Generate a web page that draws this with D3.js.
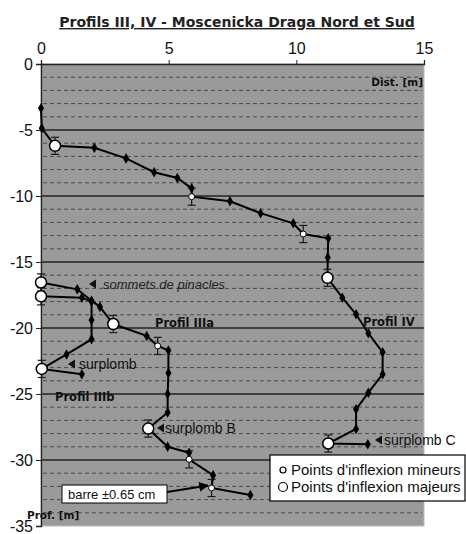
<!DOCTYPE html>
<html>
<head>
<meta charset="utf-8">
<script src="https://cdn.jsdelivr.net/npm/d3@7"></script>
<style>
  body { margin: 0; background: #fff; }
  svg text { font-family: "Liberation Sans", Arial, sans-serif; }
  .bold { font-family: "DejaVu Sans", Verdana, sans-serif !important; font-weight: bold; }
</style>
</head>
<body>
<script>
// window size
var width = 466,
	height = 534;

// x = distance [m], y = depth [m], t = point type (n normal, m minor, M major)
var profilIV = [
	[0, -3.36, "n"], [0.03, -4.87, "n"], [0.55, -6.2, "M"], [2.09, -6.34, "n"],
	[3.33, -7.15, "n"], [4.43, -8.2, "n"], [5.34, -8.64, "n"], [5.9, -9.42, "n"],
	[5.9, -10.05, "m"], [7.4, -10.4, "n"], [8.6, -11.3, "n"], [9.88, -12.07, "n"],
	[10.27, -12.88, "m"], [11.25, -13.2, "n"], [11.23, -14.65, "n"], [11.22, -16.2, "M"],
	[11.8, -17.7, "n"], [12.34, -18.96, "n"], [12.82, -20.4, "n"], [13.38, -21.84, "n"],
	[13.38, -23.5, "n"], [12.82, -24.9, "n"], [12.34, -26.16, "n"], [12.34, -27.65, "n"],
	[11.25, -28.75, "M"], [12.8, -28.8, "n"]
];

var profilIIIa = [
	[0, -16.55, "M"], [1.42, -17.07, "n"], [1.98, -17.93, "n"], [2.31, -18.4, "n"],
	[2.83, -19.7, "M"], [4.14, -20.6, "n"], [4.57, -21.36, "m"], [4.99, -21.7, "n"],
	[4.99, -23.4, "n"], [4.96, -25.0, "n"], [4.96, -26.4, "n"], [4.2, -27.62, "M"],
	[4.96, -29.0, "n"], [5.8, -29.45, "n"], [5.8, -29.95, "m"], [6.74, -31.15, "n"],
	[6.68, -32.12, "m"], [8.2, -32.65, "n"]
];

var profilIIIb = [
	[0, -17.6, "M"], [1.6, -17.7, "n"], [1.98, -18.0, "n"], [1.98, -19.4, "n"],
	[1.98, -20.86, "n"], [1.0, -22.0, "n"], [0.03, -23.1, "M"], [1.6, -23.5, "n"]
];

var xTicks = [0, 5, 10, 15];
var yTicks = [0, -5, -10, -15, -20, -25, -30, -35];
var errorBar = 0.65;

var titleText = "Profils III, IV - Moscenicka Draga Nord et Sud";
var legendLabels = ["Points d'inflexion mineurs", "Points d'inflexion majeurs"];

var svg = d3.select("body").append("svg")
	.attr("width", width)
	.attr("height", height);

var x = d3.scaleLinear().domain([0, 15]).range([41, 424]);
var y = d3.scaleLinear().domain([0, -35]).range([64, 526]);

// plot area
svg.append("rect")
	.attr("x", x(0)).attr("y", y(0))
	.attr("width", x(15) - x(0)).attr("height", y(-35) - y(0))
	.attr("fill", "#9a9a9a")
	.attr("stroke", "#bdbdbd");

// minor dashed gridlines
var minor = d3.range(-1, -35, -1).filter(function(d) { return d % 5 !== 0; });
svg.selectAll(".minor").data(minor).enter().append("line")
	.attr("x1", x(0) + 2).attr("x2", x(15) - 2)
	.attr("y1", function(d) { return y(d); })
	.attr("y2", function(d) { return y(d); })
	.attr("stroke", "#4a4a4a")
	.attr("stroke-width", 1)
	.attr("stroke-dasharray", "4,3");

svg.selectAll(".major").data(yTicks.filter(function(d) { return d < 0 && d > -35; }))
	.enter().append("line")
	.attr("x1", x(0)).attr("x2", x(15))
	.attr("y1", function(d) { return y(d); })
	.attr("y2", function(d) { return y(d); })
	.attr("stroke", "#222")
	.attr("stroke-width", 1.3);

// axes
var xAxis = d3.axisTop(x).tickValues(xTicks).tickSize(4).tickPadding(6);
var yAxis = d3.axisLeft(y).tickValues(yTicks).tickSize(5).tickPadding(3);

var gx = svg.append("g").attr("transform", "translate(0," + y(0) + ")").call(xAxis);
var gy = svg.append("g").attr("transform", "translate(" + x(0) + ",0)").call(yAxis);
[gx, gy].forEach(function(g) {
	g.select(".domain").attr("stroke", "#222").attr("stroke-width", 1.3);
	g.selectAll(".tick line").attr("stroke", "#222");
	g.selectAll(".tick text")
		.attr("fill", "#111")
		.style("font-size", "16px")
		.style("font-family", "Liberation Sans, Arial, sans-serif")
		.text(function(d) { return d; });
});

// title
svg.append("text")
	.attr("class", "bold")
	.attr("x", 237).attr("y", 27)
	.attr("text-anchor", "middle")
	.style("font-size", "14px")
	.style("text-decoration", "underline")
	.attr("fill", "#222")
	.text(titleText);

// lines
var line = d3.line()
	.x(function(d) { return x(d[0]); })
	.y(function(d) { return y(d[1]); });

[profilIV, profilIIIa, profilIIIb].forEach(function(series) {
	svg.append("path")
		.datum(series)
		.attr("d", line)
		.attr("fill", "none")
		.attr("stroke", "#000")
		.attr("stroke-width", 2);
});

var allPoints = profilIV.concat(profilIIIa, profilIIIb);

// error bars on inflexion points
var inflex = allPoints.filter(function(d) { return d[2] !== "n"; });
var eb = svg.selectAll(".eb").data(inflex).enter().append("g")
	.attr("stroke", "#1a1a1a").attr("stroke-width", 1.2);
eb.append("line")
	.attr("x1", function(d) { return x(d[0]); })
	.attr("x2", function(d) { return x(d[0]); })
	.attr("y1", function(d) { return y(d[1] + errorBar); })
	.attr("y2", function(d) { return y(d[1] - errorBar); });
[errorBar, -errorBar].forEach(function(e) {
	eb.append("line")
		.attr("x1", function(d) { return x(d[0]) - 4; })
		.attr("x2", function(d) { return x(d[0]) + 4; })
		.attr("y1", function(d) { return y(d[1] + e); })
		.attr("y2", function(d) { return y(d[1] + e); });
});

// regular points
svg.selectAll(".pt").data(allPoints.filter(function(d) { return d[2] === "n"; }))
	.enter().append("path")
	.attr("d", d3.symbol().type(d3.symbolDiamond).size(32))
	.attr("transform", function(d) { return "translate(" + x(d[0]) + "," + y(d[1]) + ")"; })
	.attr("fill", "#000");

// inflexion points
svg.selectAll(".inf").data(inflex).enter().append("circle")
	.attr("cx", function(d) { return x(d[0]); })
	.attr("cy", function(d) { return y(d[1]); })
	.attr("r", function(d) { return d[2] === "M" ? 5.5 : 3; })
	.attr("fill", "#fff")
	.attr("stroke", "#000")
	.attr("stroke-width", function(d) { return d[2] === "M" ? 1.5 : 1; });

// annotations
function tri(px, py) {
	svg.append("path")
		.attr("d", "M" + px + "," + py + "l7,-4.5v9z")
		.attr("fill", "#111");
}

svg.append("text").attr("class", "bold").attr("x", 423).attr("y", 86)
	.attr("text-anchor", "end").style("font-size", "10.5px").attr("fill", "#111").text("Dist. [m]");
svg.append("text").attr("class", "bold").attr("x", 27).attr("y", 519)
	.style("font-size", "10.5px").attr("fill", "#111").text("Prof. [m]");

tri(89, 284);
svg.append("text").attr("x", 103).attr("y", 288.5)
	.style("font-size", "13px").style("font-style", "italic").attr("fill", "#222").text("sommets de pinacles");

svg.append("text").attr("class", "bold").attr("x", 155).attr("y", 326.5)
	.style("font-size", "11.5px").attr("fill", "#111").text("Profil IIIa");
svg.append("text").attr("class", "bold").attr("x", 363).attr("y", 325.5)
	.style("font-size", "11.5px").attr("fill", "#111").text("Profil IV");
svg.append("text").attr("class", "bold").attr("x", 55).attr("y", 401)
	.style("font-size", "11.5px").attr("fill", "#111").text("Profil IIIb");

tri(68, 364);
svg.append("text").attr("x", 79).attr("y", 369)
	.style("font-size", "14px").attr("fill", "#111").text("surplomb");
tri(157, 428);
svg.append("text").attr("x", 165).attr("y", 433)
	.style("font-size", "14px").attr("fill", "#111").text("surplomb B");
tri(375, 440);
svg.append("text").attr("x", 384).attr("y", 445)
	.style("font-size", "14px").attr("fill", "#111").text("surplomb C");

// error bar note with arrow
svg.append("defs").append("marker")
	.attr("id", "arrow").attr("viewBox", "0 0 10 10")
	.attr("refX", 9).attr("refY", 5)
	.attr("markerWidth", 5).attr("markerHeight", 5)
	.attr("orient", "auto")
	.append("path").attr("d", "M0,0L10,5L0,10z").attr("fill", "#000");

svg.append("line")
	.attr("x1", 167).attr("y1", 492).attr("x2", 208).attr("y2", 485.5)
	.attr("stroke", "#000").attr("stroke-width", 2)
	.attr("marker-end", "url(#arrow)");
svg.append("rect")
	.attr("x", 62).attr("y", 485).attr("width", 105).attr("height", 18)
	.attr("fill", "#fff").attr("stroke", "#000").attr("stroke-width", 1);
svg.append("text").attr("x", 68).attr("y", 499)
	.style("font-size", "13px").attr("fill", "#111").text("barre \u00b10.65 cm");

// legend
var legend = svg.append("g").attr("transform", "translate(270,455)");
legend.append("rect")
	.attr("width", 195).attr("height", 46)
	.attr("fill", "#fff").attr("stroke", "#000").attr("stroke-width", 1.2);
legendLabels.forEach(function(label, i) {
	legend.append("circle")
		.attr("cx", 13).attr("cy", 15 + i * 17)
		.attr("r", i === 0 ? 3 : 4.5)
		.attr("fill", "#fff").attr("stroke", "#000").attr("stroke-width", 1.2);
	legend.append("text")
		.attr("x", 21).attr("y", 20 + i * 17)
		.style("font-size", "15px").attr("fill", "#111")
		.text(label);
});
</script>
</body>
</html>
